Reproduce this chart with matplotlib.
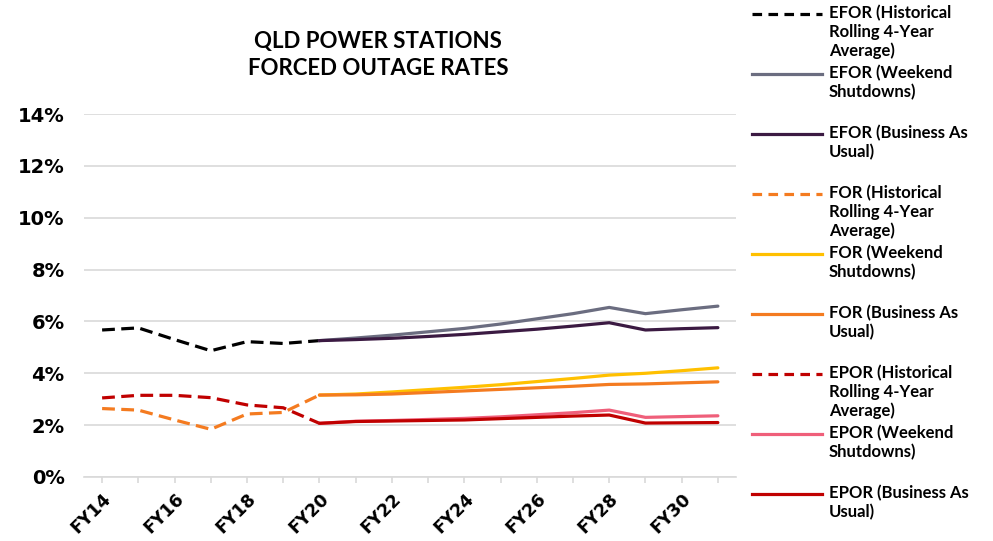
import numpy as np
import matplotlib.pyplot as plt
from matplotlib.lines import Line2D
from matplotlib.ticker import PercentFormatter

plt.rcParams['font.family'] = ['Lato', 'DejaVu Sans']
plt.rcParams['font.weight'] = 'bold'

years = ['FY%d' % y for y in range(14, 32)]
hist_years = years[:7]     # FY14 - FY20
proj_years = years[6:]     # FY20 - FY31

efor_hist = [5.67, 5.75, 5.30, 4.87, 5.22, 5.15, 5.26]
efor_wknd = [5.26, 5.36, 5.47, 5.60, 5.73, 5.90, 6.10, 6.30, 6.54, 6.30, 6.45, 6.59]
efor_bau = [5.26, 5.30, 5.35, 5.42, 5.50, 5.60, 5.70, 5.82, 5.95, 5.67, 5.72, 5.76]
for_hist = [2.64, 2.58, 2.20, 1.84, 2.43, 2.49, 3.16]
for_wknd = [3.16, 3.20, 3.28, 3.37, 3.46, 3.56, 3.68, 3.80, 3.93, 4.00, 4.10, 4.21]
for_bau = [3.16, 3.17, 3.20, 3.26, 3.32, 3.38, 3.44, 3.50, 3.57, 3.59, 3.63, 3.67]
epor_hist = [3.05, 3.15, 3.15, 3.06, 2.78, 2.67, 2.07]
epor_wknd = [2.07, 2.15, 2.18, 2.22, 2.26, 2.32, 2.40, 2.48, 2.58, 2.30, 2.33, 2.36]
epor_bau = [2.07, 2.14, 2.16, 2.18, 2.20, 2.25, 2.30, 2.35, 2.39, 2.08, 2.09, 2.10]

series = [
    ('EFOR (Historical\nRolling 4-Year\nAverage)', hist_years, efor_hist, '#000000', '--'),
    ('EFOR (Weekend\nShutdowns)', proj_years, efor_wknd, '#6b6d80', '-'),
    ('EFOR (Business As\nUsual)', proj_years, efor_bau, '#3b1a42', '-'),
    ('FOR (Historical\nRolling 4-Year\nAverage)', hist_years, for_hist, '#f47b20', '--'),
    ('FOR (Weekend\nShutdowns)', proj_years, for_wknd, '#ffc000', '-'),
    ('FOR (Business As\nUsual)', proj_years, for_bau, '#f47b20', '-'),
    ('EPOR (Historical\nRolling 4-Year\nAverage)', hist_years, epor_hist, '#c00000', '--'),
    ('EPOR (Weekend\nShutdowns)', proj_years, epor_wknd, '#ef5f7a', '-'),
    ('EPOR (Business As\nUsual)', proj_years, epor_bau, '#c00000', '-'),
]

fig = plt.figure(figsize=(9.93, 5.41), dpi=100)
ax = fig.add_axes([84/993, 64/541, 652/993, 363/541])

xpos = {y: i for i, y in enumerate(years)}
for label, yrs, vals, color, ls in series:
    ax.plot([xpos[y] for y in yrs], np.array(vals) / 100, color=color, lw=2.3,
            ls=ls, dashes=(4, 2) if ls == '--' else (None, None),
            solid_capstyle='round', dash_capstyle='butt')

ax.set_xlim(-0.5, len(years) - 0.5)
ax.set_ylim(0, 0.14)
ax.set_yticks(np.arange(0, 0.141, 0.02))
ax.yaxis.set_major_formatter(PercentFormatter(1.0, decimals=0))
ax.set_xticks(range(len(years)))
ax.set_xticklabels([y if i % 2 == 0 else '' for i, y in enumerate(years)],
                   rotation=45, ha='right', rotation_mode='anchor')
for t in ax.get_xticklabels() + ax.get_yticklabels():
    t.set_family('DejaVu Sans')
    t.set_fontweight('bold')
ax.grid(axis='y', color='#d9d9d9', lw=1.2)
ax.set_axisbelow(True)
for s in ['top', 'right', 'left']:
    ax.spines[s].set_visible(False)
ax.spines['bottom'].set_color('#d9d9d9')
ax.spines['bottom'].set_linewidth(1.2)
ax.tick_params(axis='y', length=0, labelsize=14, pad=14)
ax.tick_params(axis='x', length=4, color='#d9d9d9', width=1.2, labelsize=12.5, pad=5)

fig.text(378/993, 1 - 55/541, 'QLD POWER STATIONS\nFORCED OUTAGE RATES',
         ha='center', va='center', fontsize=16, fontweight='bold', linespacing=1.3)

# legend, handle next to the first line of each label
for i, (label, yrs, vals, color, ls) in enumerate(series):
    yy = 1 - (14 + 60 * i) / 541
    fig.add_artist(Line2D([752/993, 822/993], [yy, yy], color=color, lw=2.3, ls=ls,
                          dashes=(3, 2) if ls == '--' else (None, None)))
    fig.text(829/993, yy + 9/541, label, ha='left', va='top', fontsize=12,
             fontweight='bold', linespacing=1.2)

fig.savefig('out.png', dpi=100)
